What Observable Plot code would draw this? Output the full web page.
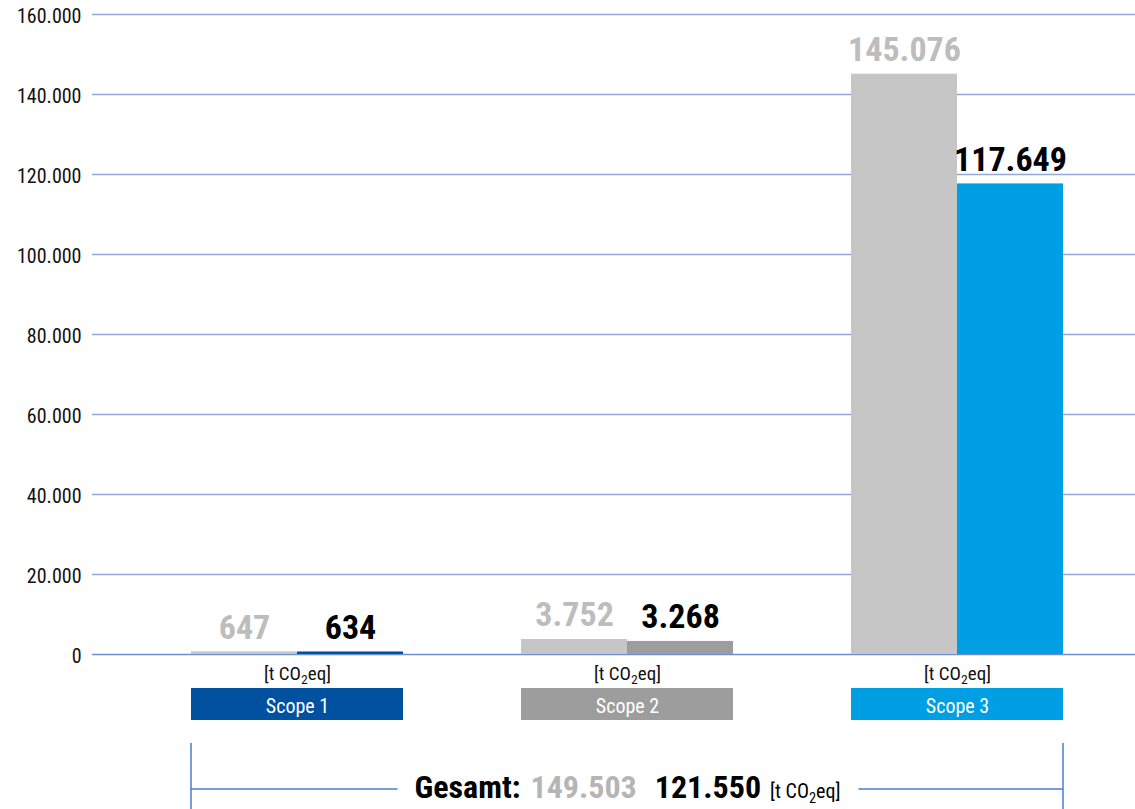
<!DOCTYPE html>
<html>
<head>
<meta charset="utf-8">
<script src="https://cdn.jsdelivr.net/npm/d3@7"></script>
<script src="https://cdn.jsdelivr.net/npm/@observablehq/plot@0.6"></script>
<style>
  html, body { margin: 0; padding: 0; background: #fff; }
  #chart svg { display: block; }
</style>
</head>
<body>
<div id="chart"></div>
<script>
// ---- data ----
const scopes = ["Scope 1", "Scope 2", "Scope 3"];
const series = ["Vorjahr", "Berichtsjahr"];
const previousValues = [647, 3752, 145076];
const currentValues = [634, 3268, 117649];
const totalPrevious = 149503;
const totalCurrent = 121550;
const unitLabel = "[t CO₂eq]";
const totalLabel = "Gesamt:";
const yTicks = [0, 20000, 40000, 60000, 80000, 100000, 120000, 140000, 160000];

// ---- styles ----
const scopeColors = ["#0052a0", "#9d9d9d", "#009fe3"];
const previousColor = "#c6c6c6";
const previousText = "#bdbdbd";
const gridColor = "#93a8d8";
const zeroColor = "#6d8fd6";
const bracketColor = "#4a7bd0";
const FONT = "'Liberation Sans Narrow', 'Roboto Condensed', 'DejaVu Sans Condensed', 'Liberation Sans', sans-serif";

const de = d3.formatLocale({decimal: ",", thousands: ".", grouping: [3], currency: ["", " €"]});
const fmt = de.format(",d");

const rows = scopes.flatMap((s, i) => [
  {scope: s, series: series[0], value: previousValues[i]},
  {scope: s, series: series[1], value: currentValues[i]}
]);
const prevRows = rows.filter(d => d.series === series[0]);
const currRows = rows.filter(d => d.series === series[1]);
const half = 106; // half of the group band width

const plot = Plot.plot({
  width: 1135,
  height: 809,
  marginTop: 14,
  marginBottom: 155,
  marginLeft: 92,
  marginRight: 0,
  style: {fontFamily: FONT, background: "#fff", overflow: "visible"},
  x: {domain: scopes, range: [191, 1063], paddingInner: 0.3576, paddingOuter: 0, axis: null},
  y: {domain: [0, 160000], axis: null},
  marks: [
    Plot.ruleY(yTicks.filter(d => d > 0), {y: d => d, stroke: gridColor, strokeWidth: 1.4}),
    Plot.ruleY([0], {y: d => d, stroke: zeroColor, strokeWidth: 1.4}),
    Plot.text(yTicks, {y: d => d, text: d => fmt(d), frameAnchor: "left", textAnchor: "end", lineAnchor: "middle", dx: -11, dy: 2, fontSize: 20, fill: "#111"}),
    Plot.barY(prevRows, {x: "scope", y: "value", fill: previousColor, insetRight: half}),
    Plot.barY(currRows, {x: "scope", y: "value", fill: d => scopeColors[scopes.indexOf(d.scope)], insetLeft: half}),
    Plot.text(prevRows, {x: "scope", y: "value", text: d => fmt(d.value), dx: -half / 2, dy: -13, lineAnchor: "bottom", fill: previousText, fontWeight: "bold", fontSize: 34}),
    Plot.text(currRows, {x: "scope", y: "value", text: d => fmt(d.value), dx: half / 2, dy: -13, lineAnchor: "bottom", fill: "#000", fontWeight: "bold", fontSize: 34}),
    // unit labels under each group
    Plot.text(scopes, {x: d => d, text: () => unitLabel, frameAnchor: "bottom", lineAnchor: "bottom", dy: 25, fontSize: 19, fill: "#111"}),
    // coloured scope boxes
    Plot.barY(scopes, {x: d => d, y1: () => 0, y2: () => 0, fill: (d, i) => scopeColors[i], insetTop: 34, insetBottom: -66}),
    Plot.text(scopes, {x: d => d, text: d => d, frameAnchor: "bottom", lineAnchor: "bottom", dy: 58, fontSize: 20, fill: "#fff"}),
    // total line
    Plot.text([totalPrevious], {x: () => scopes[1], text: d => `${totalLabel} ${fmt(totalPrevious)} ${fmt(totalCurrent)} ${unitLabel}`, frameAnchor: "bottom", lineAnchor: "bottom", dy: 143, fontSize: 32, fontWeight: "bold", fill: "#000"})
  ]
});

document.getElementById("chart").appendChild(plot);

// ---- post-processing: subscripts, multi-colour total, bracket ----
const svg = d3.select(plot);
function subscriptCO2(textEl) {
  const t = textEl.textContent;
  const idx = t.indexOf("CO₂");
  if (idx < 0) return;
  const before = t.slice(0, idx) + "CO";
  const after = t.slice(idx + 3);
  const sel = d3.select(textEl);
  sel.text(null);
  sel.append("tspan").text(before);
  sel.append("tspan").attr("font-size", "0.72em").attr("dy", "0.35em").text("2");
  sel.append("tspan").attr("dy", "-0.252em").text(after);
}

let totalEl = null;
svg.selectAll("text").each(function () {
  const t = this.textContent;
  if (t.startsWith(totalLabel)) totalEl = this;
  else if (t.includes("CO₂")) subscriptCO2(this);
});

if (totalEl) {
  const sel = d3.select(totalEl);
  sel.text(null);
  sel.append("tspan").text(totalLabel);
  sel.append("tspan").attr("dx", 10).attr("fill", "#b5b5b5").text(fmt(totalPrevious));
  sel.append("tspan").attr("dx", 18).attr("fill", "#000").text(fmt(totalCurrent));
  const u = sel.append("tspan").attr("dx", 9).attr("font-weight", "normal").attr("font-size", 20);
  u.append("tspan").text("[t CO");
  u.append("tspan").attr("font-size", "0.72em").attr("dy", "0.35em").text("2");
  u.append("tspan").attr("dy", "-0.252em").text("eq]");
}

const xs = plot.scale("x");
const ys = plot.scale("y");
const left = xs.apply(scopes[0]);
const right = xs.apply(scopes[2]) + xs.bandwidth;
const y0 = ys.apply(0);
const svgRect = plot.getBoundingClientRect();
const r = totalEl ? totalEl.getBoundingClientRect() : {left: 400, right: 840};
const textLeft = r.left - svgRect.left;
const textRight = r.right - svgRect.left;
const lineY = y0 + 135;
const g = svg.append("g").attr("stroke", bracketColor).attr("stroke-width", 1.5).attr("fill", "none");
g.append("line").attr("x1", left).attr("x2", left).attr("y1", y0 + 89).attr("y2", 809);
g.append("line").attr("x1", right).attr("x2", right).attr("y1", y0 + 89).attr("y2", 809);
g.append("line").attr("x1", left).attr("x2", textLeft - 17).attr("y1", lineY).attr("y2", lineY);
g.append("line").attr("x1", textRight + 18).attr("x2", right).attr("y1", lineY).attr("y2", lineY);
</script>
</body>
</html>
